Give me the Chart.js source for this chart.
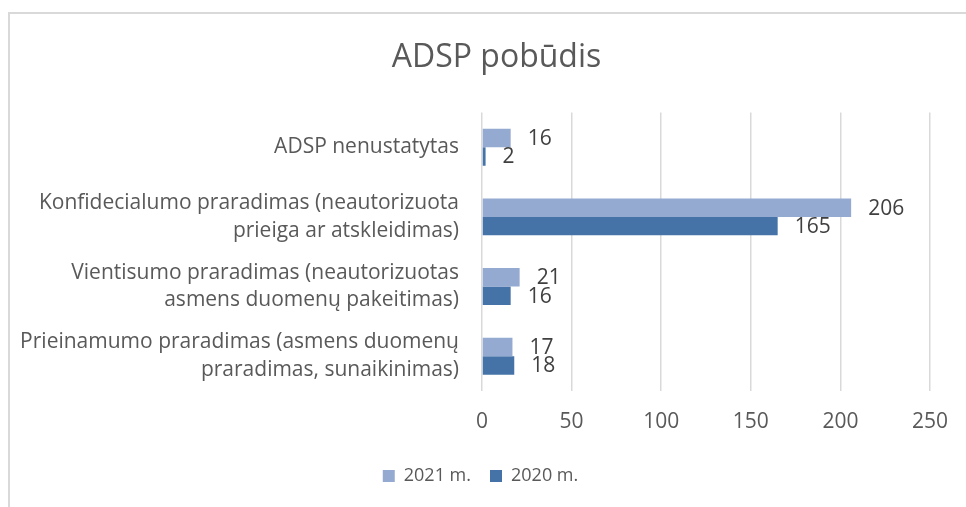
<!DOCTYPE html>
<html>
<head>
<meta charset="utf-8">
<script src="https://cdn.jsdelivr.net/npm/chart.js@4/dist/chart.umd.min.js"></script>
<style>
  html, body { margin: 0; padding: 0; background: #fff; overflow: hidden; }
  #wrap { position: relative; width: 966px; height: 507px; }
  #frame {
    position: absolute; left: 8px; top: 12px; right: -10px; bottom: -10px;
    border-left: 2px solid #d9d9d9; border-top: 2px solid #d9d9d9;
    pointer-events: none;
  }
  canvas { position: absolute; left: 0; top: 0; }
</style>
</head>
<body>
<div id="wrap">
  <canvas id="myChart" width="966" height="507"></canvas>
  <div id="frame"></div>
</div>
<script>
// @ts-check

const chartTitle = 'ADSP pobūdis';

const categories = [
    ['ADSP nenustatytas'],
    ['Konfidecialumo praradimas (neautorizuota', 'prieiga ar atskleidimas)'],
    ['Vientisumo praradimas (neautorizuotas', 'asmens duomenų pakeitimas)'],
    ['Prieinamumo praradimas (asmens duomenų', 'praradimas, sunaikinimas)'],
];

const seriesNames = ['2021 m.', '2020 m.'];
const values2021 = [16, 206, 21, 17];
const values2020 = [2, 165, 16, 18];

const xTicks = [0, 50, 100, 150, 200, 250];

const FONT = '"Open Sans", "DejaVu Sans", sans-serif';

/**
 * Draws the value next to the end of every bar
 */
const barValueLabels = {
    id: 'barValueLabels',
    afterDatasetsDraw(chart) {
        const ctx = chart.ctx;
        ctx.save();
        ctx.font = `21px ${FONT}`;
        ctx.fillStyle = '#404040';
        ctx.textAlign = 'left';
        ctx.textBaseline = 'middle';
        chart.data.datasets.forEach((ds, i) => {
            chart.getDatasetMeta(i).data.forEach((bar, j) => {
                ctx.fillText(String(ds.data[j]), bar.x + 17, bar.y + 1);
            });
        });
        ctx.restore();
    }
};

/**
 * Excel centres the title and legend a bit off the canvas centre, nudge them
 */
const nudgeBoxes = {
    id: 'nudgeBoxes',
    afterLayout(chart) {
        const shift = (box, dx) => {
            if (!box) return;
            box.left += dx;
            box.right += dx;
        };
        shift(chart.titleBlock, 30);
        shift(chart.legend, 14);
    }
};

/**
 * Checks whether the passed ID exists and returns the element.
 * @param {string} id
 * @returns {HTMLElement}
 */
function getElementById(id) {
    const element = document.getElementById(id);
    if (!element) {
        throw new Error(`Element with id ${id} not found!`);
    }
    return element;
}

function renderChart() {
    const ctx = getElementById('myChart');
    new Chart(ctx, {
        type: 'bar',
        data: {
            labels: categories,
            datasets: [{
                label: seriesNames[0],
                data: values2021,
                backgroundColor: '#95aad1',
            }, {
                label: seriesNames[1],
                data: values2020,
                backgroundColor: '#4573a7',
            }]
        },
        options: {
            indexAxis: 'y',
            responsive: false,
            animation: false,
            maintainAspectRatio: false,
            layout: { padding: { left: 0, right: 33, top: 0, bottom: 12 } },
            datasets: {
                bar: { categoryPercentage: 0.53, barPercentage: 1.0 }
            },
            scales: {
                x: {
                    min: xTicks[0],
                    max: xTicks[xTicks.length - 1],
                    afterBuildTicks: (scale) => { scale.ticks = xTicks.map((v) => ({ value: v })); },
                    grid: { color: '#d9d9d9', lineWidth: 1.5, drawTicks: false },
                    border: { display: false },
                    ticks: { padding: 18, color: '#595959', font: { family: FONT, size: 21 } },
                    afterFit: (scale) => { scale.height = 57; }
                },
                y: {
                    grid: { display: false, drawTicks: false },
                    border: { display: false },
                    ticks: { padding: 23, color: '#595959', font: { family: FONT, size: 21, lineHeight: 1.33 } },
                    afterFit: (scale) => { scale.width = 482; }
                }
            },
            plugins: {
                title: {
                    display: true,
                    text: chartTitle,
                    color: '#595959',
                    font: { family: FONT, size: 32, weight: 'normal' },
                    padding: { top: 39, bottom: 35 }
                },
                legend: {
                    position: 'bottom',
                    labels: {
                        boxWidth: 12,
                        boxHeight: 12,
                        padding: 19,
                        color: '#595959',
                        font: { family: FONT, size: 18 }
                    }
                },
                tooltip: { enabled: false }
            }
        },
        plugins: [barValueLabels, nudgeBoxes]
    });
}

renderChart();
</script>
</body>
</html>
